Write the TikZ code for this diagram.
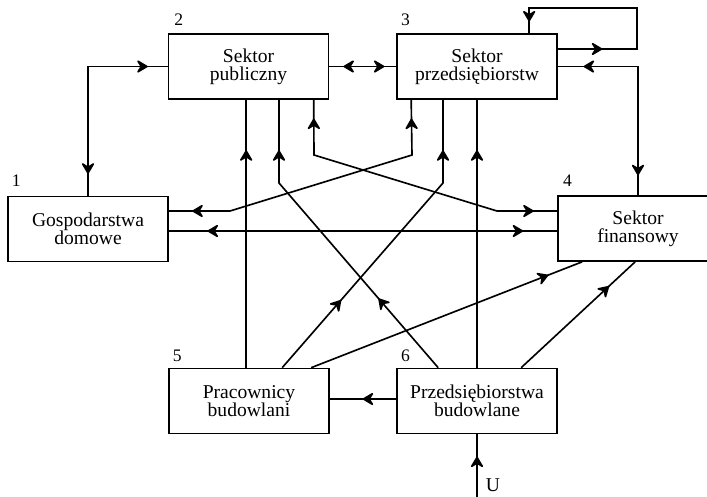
\documentclass[tikz,border=0pt]{standalone}
\usepackage{fontspec}
\setmainfont{Liberation Serif}
\usetikzlibrary{arrows.meta,calc,decorations.markings}
\tikzset{barb/.tip={Stealth[length=11pt,width=13pt,inset=4pt,round]}}
\begin{document}
\begin{tikzpicture}[x=0.03cm, y=-0.03cm, line width=1.4pt,
    box/.style={draw, minimum width=4.8cm, minimum height=1.95cm, align=center, inner sep=0pt, font=\fontsize{16.7}{15.6}\selectfont},
    num/.style={anchor=base west, inner sep=0pt, font=\fontsize{15}{15}\selectfont},
    fwd/.style={postaction={decorate, decoration={markings, mark=at position #1 with {\arrow{barb}}}}},
    bwd/.style={postaction={decorate, decoration={markings, mark=at position #1 with {\arrowreversed{barb}}}}}]
	\useasboundingbox (0,0) rectangle (707,496);
	
	% 1. sektory (bloki)
	\node[box] (b1) at (88,229) {Gospodarstwa\\domowe};
	\node[box] (b2) at (248.5,66.5) {Sektor\\publiczny};
	\node[box] (b3) at (477,66.5) {Sektor\\przedsiębiorstw};
	\node[box] (b4) at (638,228.5) {Sektor\\finansowy};
	\node[box] (b5) at (249,401) {Pracownicy\\budowlani};
	\node[box] (b6) at (477,401) {Przedsiębiorstwa\\budowlane};
	
	% 2. numery bloków
	\node[num] (n1) at ($(b1.north west)+(4,-9)$) {1};
	\node[num] (n2) at ($(b2.north west)+(6,-8)$) {2};
	\node[num] (n3) at ($(b3.north west)+(4,-8)$) {3};
	\node[num] (n4) at ($(b4.north west)+(5,-9)$) {4};
	\node[num] (n5) at ($(b5.north west)+(4,-6)$) {5};
	\node[num] (n6) at ($(b6.north west)+(4,-6)$) {6};
	
	% 3. punkty pomocnicze
	\coordinate (c3) at ($(b3.east)+(0,-17.5)$);
	\coordinate (c3t) at ($(b3.north west)+(133,0)$);
	\coordinate (e5) at ($(b5.north west)+(78,0)$);
	\coordinate (f6) at ($(b6.north west)+(42,0)$);
	\coordinate (f1) at (279,183);
	\coordinate (g2) at ($(b2.south west)+(146,0)$);
	\coordinate (g1) at (497,211);
	\coordinate (h3) at ($(b3.south west)+(15,0)$);
	\coordinate (h1) at (230,211);
	\coordinate (i5) at ($(b5.north west)+(114,0)$);
	\coordinate (i1) at (443,183);
	\coordinate (k1) at ($(b1.east)+(0,2)$);
	\coordinate (l5) at ($(b5.north west)+(143,0)$);
	\coordinate (l4) at ($(b4.south west)+(25,0)$);
	\coordinate (m6) at ($(b6.north west)+(125,0)$);
	\coordinate (m4) at ($(b4.south west)+(78,0)$);
	\coordinate (n6c) at ($(b6.west)+(0,-2)$);
	\coordinate (u) at (477,497);
	
	% 4. przepływy
	\draw[bwd=18.7pt, fwd=-17pt] (b1.north) |- (b2.west);
	\draw[bwd=12pt, fwd=-10pt] (b2.east) -- (b3.west);
	\draw[fwd=38pt, fwd=-10pt] (c3) -- (637,49) -- (637,8) -| (c3t);
	\draw[bwd=22pt, fwd=-17pt] (b3.east) -| (b4.north);
	\draw[fwd=-43pt] (e5) -- (e5 |- b2.south);
	\draw[fwd=78pt, fwd=-43pt] (f6) -- (f1) -- (f1 |- b2.south);
	\draw[bwd=16pt, fwd=-20pt] (g2) -- (314,155) -- (g1) -- (g1 -| b4.west);
	\draw[bwd=16pt, fwd=-20pt] (h3) -- (412,155) -- (h1) -- (h1 -| b1.east);
	\draw[fwd=76.5pt, fwd=-43pt] (i5) -- (i1) -- (i1 |- b3.south);
	\draw[fwd=-43pt] (b6.north) -- (b3.south);
	\draw[bwd=33pt, fwd=-29pt] (k1) -- (k1 -| b4.west);
	\draw[fwd=-31pt] (l5) -- (l4);
	\draw[fwd=-30pt] (m6) -- (m4);
	\draw[fwd=-28pt] (n6c) -- (n6c -| b5.east);
	\draw[fwd=-19pt] (u) -- (b6.south);
	\node[anchor=base west, inner sep=0pt, font=\fontsize{16.7}{15.6}\selectfont] (ulab) at (485,491) {U};
\end{tikzpicture}
\end{document}
